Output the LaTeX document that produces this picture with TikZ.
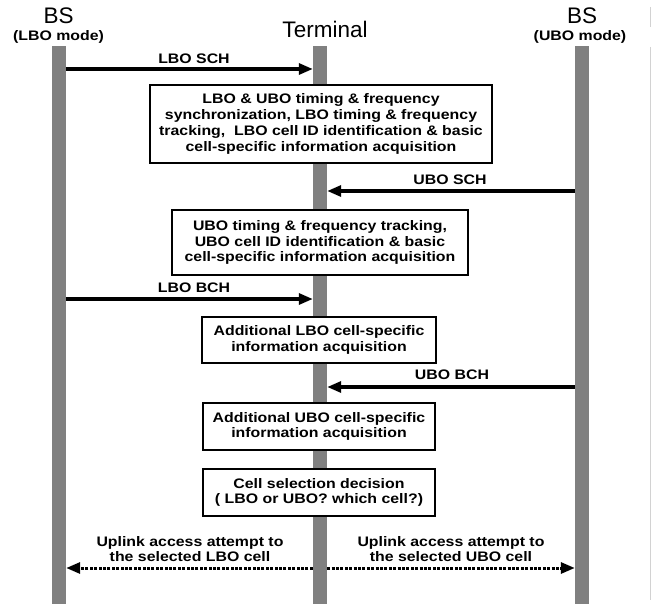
\documentclass[tikz,border=0pt]{standalone}
\usepackage{fontspec}
\setmainfont{Liberation Sans}
\newfontfamily\widefont[FakeStretch=1.15]{Liberation Sans Bold}
\usetikzlibrary{arrows.meta}
\definecolor{barg}{HTML}{808080}
\begin{document}
\begin{tikzpicture}[x=1pt,y=-1pt,
  bar/.style={fill=barg, draw=none, minimum width=14pt, minimum height=558pt, inner sep=0pt, anchor=north},
  box/.style={draw, fill=white, line width=2.4pt, align=center, inner sep=0pt,
    font=\widefont\fontsize{13.8}{15.8}\selectfont},
  msg/.style={line width=3.2pt, -{Triangle[length=14pt,width=11pt]}},
  dmsg/.style={line width=3pt, dash pattern=on 3pt off 1.4pt, -{Triangle[length=14pt,width=11pt]}},
  lbl/.style={font=\widefont\fontsize{13.8}{15.8}\selectfont, align=center, inner sep=0pt},
  head/.style={font=\fontsize{22.5}{24}\selectfont, inner sep=0pt},
  mode/.style={font=\widefont\fontsize{13.8}{15}\selectfont, inner sep=0pt}
]
\useasboundingbox (0,0) rectangle (658,604);
\fill[white] (0,0) rectangle (658,604);
% faint right edge line
\draw[gray!35, line width=1pt] (650,7) -- (650,27) (650,47) -- (650,600);

% lifelines
\node[bar] (L) at (59,46) {};
\node[bar] (T) at (320,46) {};
\node[bar] (R) at (582,46) {};

% headers
\node[head] (hL) at (58.7,15.5) {BS};
\node[mode] (mL) at (58.5,37) {(LBO mode)};
\node[head] (hT) at (325,29.5) {Terminal};
\node[head] (hR) at (582,16) {BS};
\node[mode] (mR) at (580,37) {(UBO mode)};

% y-levels
\coordinate (y1) at (0,69);
\coordinate (y2) at (0,191);
\coordinate (y3) at (0,299);
\coordinate (y4) at (0,387);
\coordinate (y5) at (0,568);

% messages
\draw[msg] (L.east |- y1) -- (T.west |- y1);
\node[lbl] (l1) at (194,59) {LBO SCH};

\node[box, minimum width=342pt, minimum height=78pt] (b1) at (321,124)
  {LBO \& UBO timing \& frequency\\ synchronization, LBO timing \& frequency\\ tracking,\ \ LBO cell ID identification \& basic\\ cell-specific information acquisition};

\draw[msg] (R.west |- y2) -- (T.east |- y2);
\node[lbl] (l2) at (450,180) {UBO SCH};

\node[box, minimum width=296pt, minimum height=65pt] (b2) at (320,242.5)
  {UBO timing \& frequency tracking,\\ UBO cell ID identification \& basic\\ cell-specific information acquisition};

\draw[msg] (L.east |- y3) -- (T.west |- y3);
\node[lbl] (l3) at (194,288) {LBO BCH};

\node[box, minimum width=234pt, minimum height=46pt] (b3) at (319,340)
  {Additional LBO cell-specific\\ information acquisition};

\draw[msg] (R.west |- y4) -- (T.east |- y4);
\node[lbl] (l4) at (452,375) {UBO BCH};

\node[box, minimum width=232pt, minimum height=47pt] (b4) at (319,426.5)
  {Additional UBO cell-specific\\ information acquisition};

\node[box, minimum width=232pt, minimum height=47pt] (b5) at (319,492.5)
  {Cell selection decision\\ ( LBO or UBO? which cell?)};

\draw[dmsg] (T.west |- y5) -- (L.east |- y5);
\draw[dmsg] (T.east |- y5) -- (R.west |- y5);
\node[lbl] (l5) at (190,549) {Uplink access attempt to\\ the selected LBO cell};
\node[lbl] (l6) at (451,549) {Uplink access attempt to\\ the selected UBO cell};
\end{tikzpicture}
\end{document}
